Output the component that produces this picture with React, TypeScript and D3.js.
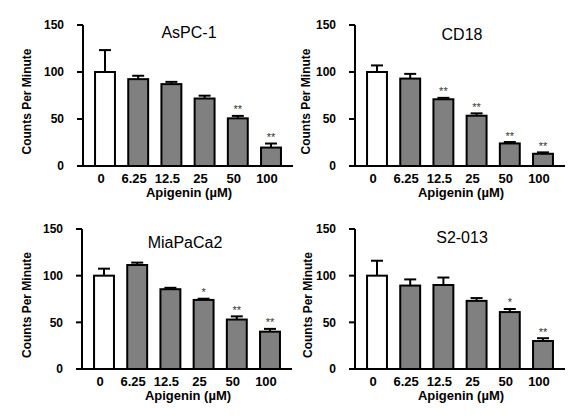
import React from "react";
import * as d3 from "d3";

const categories = ["0", "6.25", "12.5", "25", "50", "100"];
const yTicks = [0, 50, 100, 150];
const xAxisLabel = "Apigenin (µM)";
const yAxisLabel = "Counts Per Minute";

const titles = ["AsPC-1", "CD18", "MiaPaCa2", "S2-013"];

const asPC1Values = [100, 92.4, 87.1, 71.8, 50.7, 19.6];
const asPC1Err = [23.3, 3.6, 2.4, 3.0, 2.6, 4.3];
const asPC1Stars = ["", "", "", "", "**", "**"];

const cd18Values = [100, 93, 71, 53.5, 24, 13];
const cd18Err = [7, 5, 1.5, 2.5, 1.5, 1.5];
const cd18Stars = ["", "", "**", "**", "**", "**"];

const miaValues = [100, 111.4, 85.5, 74, 53, 40];
const miaErr = [7.5, 2.6, 1.5, 1.3, 3.4, 3];
const miaStars = ["", "", "", "*", "**", "**"];

const s2Values = [100, 89.4, 90, 73, 61, 30];
const s2Err = [16, 6.6, 8, 3, 3.3, 3];
const s2Stars = ["", "", "", "", "*", "**"];

const seriesValues = [asPC1Values, cd18Values, miaValues, s2Values];
const seriesErr = [asPC1Err, cd18Err, miaErr, s2Err];
const seriesStars = [asPC1Stars, cd18Stars, miaStars, s2Stars];

const FONT = "Arial, 'Liberation Sans', sans-serif";

type Layout = {
  ax: number; top: number; bottom: number;
  titleDx: number; titleDy: number; ylabDx: number;
};

const layouts: Layout[] = [
  { ax: 83, top: 25, bottom: 166, titleDx: 106, titleDy: 13, ylabDx: -56 },
  { ax: 355, top: 25, bottom: 166, titleDx: 107, titleDy: 15, ylabDx: -49 },
  { ax: 82, top: 229, bottom: 369, titleDx: 103, titleDy: 19, ylabDx: -55 },
  { ax: 355, top: 229, bottom: 369, titleDx: 107, titleDy: 14, ylabDx: -47 },
];

function Panel({ idx }: { idx: number }) {
  const L = layouts[idx];
  const values = seriesValues[idx];
  const errs = seriesErr[idx];
  const stars = seriesStars[idx];
  const y = d3.scaleLinear().domain([0, 150]).range([L.bottom, L.top]);
  const x = d3
    .scaleBand<string>()
    .domain(categories)
    .range([L.ax + 5.4, L.ax + 5.4 + 6 * 33.2])
    .paddingInner(0.4)
    .paddingOuter(0.2);
  const bw = x.bandwidth();
  return (
    <g>
      {/* bars */}
      {categories.map((c, i) => {
        const x0 = x(c)!;
        const cx = x0 + bw / 2;
        const yv = y(values[i]);
        const ye = y(values[i] + errs[i]);
        return (
          <g key={c}>
            <line x1={cx} x2={cx} y1={yv} y2={ye} stroke="#000" strokeWidth={2} />
            <line x1={cx - 6} x2={cx + 6} y1={ye} y2={ye} stroke="#000" strokeWidth={2} />
            <rect
              x={x0}
              y={yv}
              width={bw}
              height={y(0) - yv}
              fill={i === 0 ? "#ffffff" : "#808080"}
              stroke="#000"
              strokeWidth={2}
            />
            {stars[i] && (
              <text
                x={cx}
                y={ye - 2.5}
                textAnchor="middle"
                fontFamily={FONT}
                fontSize={11}
                fill="#333"
              >
                {stars[i]}
              </text>
            )}
            <text
              x={cx - 4}
              y={L.bottom + 17}
              textAnchor="middle"
              fontFamily={FONT}
              fontSize={13}
              fontWeight="bold"
              fill="#000"
            >
              {c}
            </text>
          </g>
        );
      })}
      {/* axes */}
      <line x1={L.ax} x2={L.ax} y1={y(150)} y2={y(0)} stroke="#000" strokeWidth={2} />
      <line x1={L.ax - 6} x2={L.ax + 210} y1={y(0)} y2={y(0)} stroke="#000" strokeWidth={2} />
      {yTicks.map((t) => (
        <g key={t}>
          <line x1={L.ax - 6} x2={L.ax} y1={y(t)} y2={y(t)} stroke="#000" strokeWidth={2} />
          <text
            x={L.ax - 19}
            y={y(t)}
            dy="0.35em"
            textAnchor="end"
            fontFamily={FONT}
            fontSize={12}
            fontWeight="bold"
            fill="#000"
          >
            {t}
          </text>
        </g>
      ))}
      <text
        x={L.ax + L.titleDx}
        y={L.top + L.titleDy}
        textAnchor="middle"
        fontFamily={FONT}
        fontSize={16}
        fill="#000"
      >
        {titles[idx]}
      </text>
      <text
        x={L.ax + 106}
        y={L.bottom + 31}
        textAnchor="middle"
        fontFamily={FONT}
        fontSize={13}
        fontWeight="bold"
        fill="#000"
      >
        {xAxisLabel}
      </text>
      <text
        transform={`translate(${L.ax + L.ylabDx},${(L.top + L.bottom) / 2 + 6}) rotate(-90)`}
        textAnchor="middle"
        dy="0.35em"
        fontFamily={FONT}
        fontSize={12}
        fontWeight="bold"
        fill="#000"
      >
        {yAxisLabel}
      </text>
    </g>
  );
}

export default function App() {
  return (
    <svg
      width={586}
      height={420}
      style={{ position: "absolute", left: 0, top: 0, background: "#fff" }}
    >
      <rect x={0} y={0} width={586} height={420} fill="#fff" />
      {[0, 1, 2, 3].map((i) => (
        <Panel key={i} idx={i} />
      ))}
    </svg>
  );
}
